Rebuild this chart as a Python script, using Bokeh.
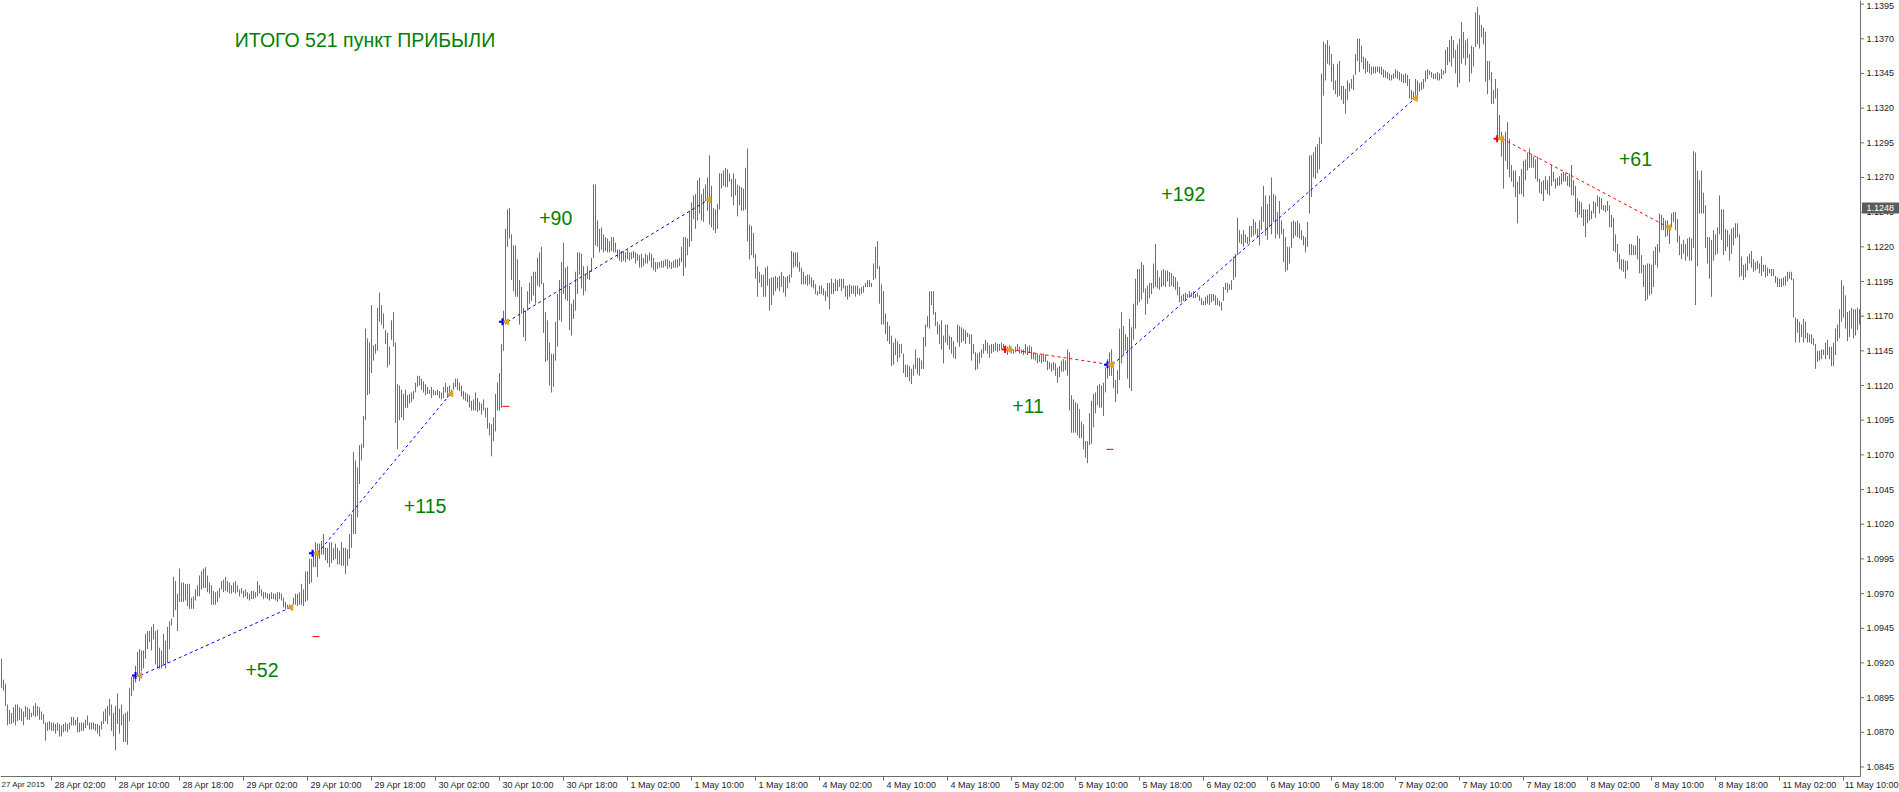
import math
from bokeh.plotting import figure
from bokeh.models import Range1d, ColumnDataSource
from bokeh.core.properties import value
from bokeh.embed import file_html
from bokeh.resources import INLINE

# EURUSD M15 bars (high / low), bar index = 15-minute trading period
HIGH = [
1.0923,1.0908,1.0905,1.0890,1.0886,1.0884,1.0888,1.0890,1.0890,1.0888,
1.0887,1.0885,1.0889,1.0888,1.0887,1.0884,1.0889,1.0891,1.0889,1.0888,
1.0885,1.0883,1.0877,1.0877,1.0878,1.0877,1.0877,1.0876,1.0877,1.0876,
1.0875,1.0876,1.0877,1.0876,1.0877,1.0881,1.0881,1.0879,1.0881,1.0877,
1.0877,1.0877,1.0879,1.0882,1.0877,1.0877,1.0877,1.0876,1.0876,1.0875,
1.0878,1.0885,1.0887,1.0889,1.0894,1.0890,1.0884,1.0889,1.0898,1.0887,
1.0890,1.0883,1.0884,1.0885,1.0902,1.0910,1.0911,1.0918,1.0928,1.0930,
1.0929,1.0929,1.0941,1.0943,1.0943,1.0946,1.0948,1.0943,1.0944,1.0931,
1.0929,1.0941,1.0936,1.0946,1.0950,1.0952,1.0982,1.0979,1.0970,1.0988,
1.0978,1.0978,1.0977,1.0977,1.0977,1.0967,1.0968,1.0973,1.0976,1.0983,
1.0986,1.0988,1.0989,1.0983,1.0978,1.0976,1.0972,1.0971,1.0972,1.0974,
1.0979,1.0980,1.0982,1.0979,1.0978,1.0976,1.0978,1.0979,1.0976,1.0973,
1.0974,1.0972,1.0973,1.0971,1.0970,1.0972,1.0972,1.0971,1.0979,1.0976,
1.0973,1.0971,1.0971,1.0970,1.0970,1.0971,1.0970,1.0970,1.0971,1.0971,
1.0970,1.0967,1.0964,1.0962,1.0962,1.0961,1.0967,1.0970,1.0970,1.0971,
1.0977,1.0973,1.0986,1.0986,1.0995,1.0995,1.1001,1.1007,1.1006,1.1006,
1.1008,1.1013,1.1003,1.1003,1.1007,1.1007,1.1003,1.1006,1.1003,1.1001,
1.1007,1.1003,1.1003,1.1002,1.1013,1.1027,1.1072,1.1066,1.1061,1.1077,
1.1078,1.1098,1.1161,1.1154,1.1151,1.1178,1.1149,1.1150,1.1176,1.1187,
1.1178,1.1172,1.1160,1.1158,1.1148,1.1167,1.1173,1.1151,1.1121,1.1120,
1.1117,1.1114,1.1117,1.1113,1.1114,1.1115,1.1116,1.1122,1.1127,1.1127,
1.1125,1.1123,1.1121,1.1119,1.1117,1.1119,1.1117,1.1116,1.1117,1.1116,
1.1115,1.1119,1.1122,1.1119,1.1120,1.1117,1.1122,1.1125,1.1125,1.1122,
1.1120,1.1116,1.1115,1.1114,1.1113,1.1109,1.1110,1.1115,1.1111,1.1108,
1.1107,1.1110,1.1104,1.1104,1.1093,1.1092,1.1097,1.1114,1.1122,1.1129,
1.1150,1.1174,1.1233,1.1247,1.1248,1.1229,1.1221,1.1221,1.1211,1.1196,
1.1191,1.1176,1.1174,1.1188,1.1194,1.1199,1.1202,1.1202,1.1212,1.1216,
1.1220,1.1194,1.1173,1.1167,1.1151,1.1143,1.1143,1.1166,1.1186,1.1196,
1.1209,1.1223,1.1205,1.1206,1.1192,1.1179,1.1182,1.1202,1.1216,1.1216,
1.1215,1.1206,1.1200,1.1206,1.1203,1.1212,1.1265,1.1265,1.1239,1.1233,
1.1234,1.1229,1.1227,1.1226,1.1224,1.1227,1.1227,1.1223,1.1218,1.1218,
1.1217,1.1217,1.1216,1.1218,1.1216,1.1216,1.1217,1.1216,1.1215,1.1214,
1.1215,1.1212,1.1215,1.1214,1.1216,1.1215,1.1212,1.1209,1.1209,1.1209,
1.1210,1.1210,1.1211,1.1211,1.1210,1.1209,1.1210,1.1211,1.1211,1.1212,
1.1220,1.1227,1.1227,1.1226,1.1246,1.1252,1.1257,1.1258,1.1268,1.1270,
1.1258,1.1262,1.1265,1.1270,1.1286,1.1264,1.1248,1.1247,1.1251,1.1273,
1.1273,1.1275,1.1277,1.1276,1.1273,1.1269,1.1273,1.1269,1.1265,1.1264,
1.1263,1.1262,1.1277,1.1291,1.1236,1.1235,1.1230,1.1215,1.1206,1.1202,
1.1200,1.1200,1.1205,1.1206,1.1197,1.1198,1.1198,1.1199,1.1198,1.1199,
1.1202,1.1199,1.1198,1.1199,1.1200,1.1217,1.1216,1.1216,1.1216,1.1209,
1.1205,1.1202,1.1199,1.1200,1.1200,1.1198,1.1196,1.1193,1.1188,1.1192,
1.1192,1.1190,1.1188,1.1194,1.1194,1.1197,1.1194,1.1197,1.1196,1.1197,
1.1197,1.1197,1.1192,1.1192,1.1193,1.1192,1.1192,1.1192,1.1192,1.1190,
1.1191,1.1192,1.1194,1.1196,1.1196,1.1194,1.1208,1.1220,1.1224,1.1206,
1.1193,1.1188,1.1172,1.1166,1.1163,1.1156,1.1151,1.1154,1.1152,1.1150,
1.1150,1.1143,1.1135,1.1135,1.1134,1.1132,1.1135,1.1146,1.1140,1.1140,
1.1138,1.1155,1.1164,1.1170,1.1188,1.1188,1.1188,1.1173,1.1166,1.1164,
1.1167,1.1156,1.1164,1.1164,1.1156,1.1155,1.1152,1.1148,1.1164,1.1163,
1.1162,1.1161,1.1160,1.1158,1.1157,1.1157,1.1150,1.1144,1.1143,1.1144,
1.1146,1.1150,1.1153,1.1151,1.1149,1.1150,1.1150,1.1151,1.1150,1.1150,
1.1151,1.1150,1.1149,1.1148,1.1149,1.1146,1.1146,1.1148,1.1150,1.1148,
1.1146,1.1146,1.1150,1.1148,1.1149,1.1148,1.1144,1.1143,1.1143,1.1142,
1.1142,1.1143,1.1142,1.1138,1.1137,1.1136,1.1137,1.1136,1.1133,1.1134,
1.1138,1.1139,1.1138,1.1146,1.1144,1.1113,1.1110,1.1108,1.1107,1.1103,
1.1094,1.1092,1.1080,1.1080,1.1100,1.1109,1.1114,1.1115,1.1120,1.1121,
1.1120,1.1122,1.1133,1.1139,1.1144,1.1146,1.1133,1.1124,1.1131,1.1161,
1.1173,1.1163,1.1157,1.1155,1.1168,1.1162,1.1179,1.1197,1.1204,1.1204,
1.1209,1.1207,1.1190,1.1192,1.1194,1.1194,1.1208,1.1222,1.1203,1.1198,
1.1203,1.1204,1.1203,1.1203,1.1202,1.1201,1.1199,1.1198,1.1195,1.1191,
1.1185,1.1186,1.1187,1.1186,1.1188,1.1187,1.1188,1.1186,1.1187,1.1185,
1.1183,1.1181,1.1184,1.1185,1.1186,1.1186,1.1186,1.1185,1.1183,1.1181,
1.1180,1.1191,1.1194,1.1194,1.1193,1.1196,1.1213,1.1215,1.1241,1.1232,
1.1229,1.1232,1.1229,1.1227,1.1235,1.1235,1.1240,1.1238,1.1233,1.1239,
1.1249,1.1264,1.1257,1.1251,1.1257,1.1270,1.1258,1.1257,1.1245,1.1253,
1.1239,1.1233,1.1227,1.1220,1.1220,1.1238,1.1239,1.1238,1.1239,1.1237,
1.1232,1.1228,1.1227,1.1238,1.1286,1.1286,1.1288,1.1292,1.1294,1.1299,
1.1345,1.1368,1.1366,1.1369,1.1365,1.1359,1.1352,1.1340,1.1352,1.1354,
1.1336,1.1336,1.1334,1.1340,1.1338,1.1341,1.1344,1.1359,1.1370,1.1370,
1.1365,1.1357,1.1356,1.1354,1.1352,1.1350,1.1350,1.1350,1.1350,1.1350,
1.1350,1.1348,1.1347,1.1346,1.1345,1.1344,1.1345,1.1348,1.1347,1.1346,
1.1345,1.1344,1.1345,1.1344,1.1341,1.1333,1.1332,1.1341,1.1340,1.1338,
1.1339,1.1341,1.1347,1.1348,1.1347,1.1346,1.1345,1.1345,1.1346,1.1345,
1.1348,1.1347,1.1362,1.1364,1.1369,1.1372,1.1369,1.1362,1.1366,1.1370,
1.1382,1.1375,1.1369,1.1370,1.1359,1.1365,1.1364,1.1389,1.1393,1.1387,
1.1380,1.1378,1.1375,1.1354,1.1354,1.1346,1.1333,1.1341,1.1334,1.1315,
1.1303,1.1299,1.1303,1.1310,1.1298,1.1279,1.1275,1.1275,1.1267,1.1271,
1.1276,1.1282,1.1283,1.1288,1.1291,1.1287,1.1285,1.1283,1.1285,1.1269,
1.1267,1.1268,1.1271,1.1268,1.1271,1.1279,1.1274,1.1269,1.1270,1.1271,
1.1273,1.1274,1.1273,1.1271,1.1273,1.1279,1.1268,1.1264,1.1255,1.1253,
1.1252,1.1247,1.1247,1.1247,1.1251,1.1246,1.1253,1.1252,1.1257,1.1256,
1.1255,1.1250,1.1250,1.1253,1.1250,1.1243,1.1241,1.1229,1.1222,1.1215,
1.1211,1.1211,1.1210,1.1210,1.1222,1.1222,1.1221,1.1221,1.1228,1.1226,
1.1214,1.1207,1.1207,1.1208,1.1208,1.1207,1.1217,1.1220,1.1222,1.1244,
1.1243,1.1241,1.1239,1.1239,1.1235,1.1244,1.1245,1.1245,1.1240,1.1228,
1.1222,1.1225,1.1222,1.1226,1.1227,1.1226,1.1289,1.1288,1.1275,1.1268,
1.1275,1.1259,1.1250,1.1227,1.1227,1.1225,1.1232,1.1229,1.1234,1.1257,
1.1247,1.1247,1.1233,1.1232,1.1229,1.1233,1.1234,1.1237,1.1237,1.1229,
1.1213,1.1207,1.1208,1.1213,1.1215,1.1217,1.1211,1.1209,1.1210,1.1208,
1.1213,1.1207,1.1207,1.1205,1.1204,1.1204,1.1204,1.1199,1.1198,1.1197,
1.1197,1.1198,1.1199,1.1202,1.1202,1.1202,1.1197,1.1169,1.1168,1.1166,
1.1164,1.1168,1.1166,1.1158,1.1157,1.1157,1.1154,1.1150,1.1145,1.1145,
1.1146,1.1146,1.1151,1.1153,1.1148,1.1148,1.1151,1.1161,1.1164,1.1175,
1.1196,1.1192,1.1185,1.1173,1.1174,1.1176,1.1175,1.1175,1.1176,1.1175,
]

LOW = [
1.0902,1.0900,1.0889,1.0875,1.0876,1.0876,1.0877,1.0875,1.0878,1.0879,
1.0878,1.0875,1.0881,1.0879,1.0879,1.0881,1.0882,1.0881,1.0882,1.0879,
1.0879,1.0876,1.0864,1.0871,1.0872,1.0871,1.0871,1.0869,1.0871,1.0867,
1.0867,1.0870,1.0871,1.0870,1.0872,1.0875,1.0875,1.0875,1.0870,1.0870,
1.0871,1.0871,1.0873,1.0875,1.0872,1.0872,1.0872,1.0871,1.0869,1.0867,
1.0872,1.0876,1.0878,1.0876,1.0882,1.0871,1.0867,1.0857,1.0876,1.0869,
1.0875,1.0863,1.0863,1.0861,1.0878,1.0896,1.0900,1.0906,1.0911,1.0907,
1.0914,1.0916,1.0923,1.0930,1.0935,1.0929,1.0937,1.0919,1.0916,1.0916,
1.0916,1.0919,1.0916,1.0920,1.0930,1.0947,1.0953,1.0958,1.0943,1.0964,
1.0964,1.0964,1.0965,1.0961,1.0959,1.0959,1.0959,1.0965,1.0968,1.0968,
1.0973,1.0974,1.0974,1.0971,1.0970,1.0962,1.0962,1.0962,1.0964,1.0967,
1.0973,1.0971,1.0972,1.0971,1.0970,1.0970,1.0971,1.0970,1.0971,1.0968,
1.0970,1.0967,1.0968,1.0966,1.0965,1.0966,1.0966,1.0967,1.0968,1.0970,
1.0968,1.0966,1.0967,1.0966,1.0965,1.0966,1.0966,1.0965,1.0964,1.0966,
1.0965,1.0960,1.0959,1.0959,1.0959,1.0958,1.0962,1.0962,1.0961,1.0962,
1.0962,1.0961,1.0964,1.0965,1.0977,1.0978,1.0989,1.0989,1.0982,1.0995,
1.0998,1.0998,1.0994,1.0992,1.0989,1.0992,1.0994,1.0995,1.0991,1.0991,
1.0990,1.0990,1.0984,1.0990,1.0995,1.1003,1.1013,1.1013,1.1025,1.1049,
1.1066,1.1075,1.1095,1.1113,1.1114,1.1129,1.1138,1.1143,1.1145,1.1166,
1.1164,1.1161,1.1150,1.1133,1.1135,1.1153,1.1148,1.1093,1.1074,1.1095,
1.1097,1.1095,1.1104,1.1104,1.1107,1.1108,1.1110,1.1115,1.1119,1.1120,
1.1117,1.1115,1.1113,1.1114,1.1114,1.1111,1.1113,1.1113,1.1113,1.1111,
1.1110,1.1111,1.1115,1.1111,1.1114,1.1114,1.1117,1.1119,1.1117,1.1116,
1.1112,1.1110,1.1109,1.1108,1.1104,1.1102,1.1102,1.1102,1.1101,1.1102,
1.1099,1.1102,1.1097,1.1089,1.1084,1.1069,1.1080,1.1087,1.1102,1.1102,
1.1104,1.1145,1.1164,1.1220,1.1226,1.1196,1.1188,1.1184,1.1184,1.1164,
1.1172,1.1155,1.1152,1.1174,1.1179,1.1181,1.1185,1.1179,1.1192,1.1191,
1.1193,1.1158,1.1137,1.1138,1.1120,1.1115,1.1119,1.1138,1.1148,1.1167,
1.1166,1.1186,1.1182,1.1181,1.1160,1.1156,1.1168,1.1174,1.1186,1.1200,
1.1190,1.1185,1.1188,1.1197,1.1196,1.1202,1.1212,1.1221,1.1220,1.1216,
1.1218,1.1216,1.1217,1.1216,1.1216,1.1217,1.1216,1.1216,1.1212,1.1210,
1.1209,1.1210,1.1209,1.1211,1.1210,1.1211,1.1212,1.1208,1.1210,1.1205,
1.1205,1.1206,1.1208,1.1208,1.1210,1.1205,1.1203,1.1202,1.1204,1.1205,
1.1205,1.1205,1.1206,1.1204,1.1205,1.1204,1.1205,1.1205,1.1205,1.1206,
1.1209,1.1199,1.1205,1.1214,1.1220,1.1224,1.1240,1.1233,1.1239,1.1244,
1.1239,1.1238,1.1253,1.1246,1.1236,1.1234,1.1232,1.1230,1.1233,1.1247,
1.1262,1.1264,1.1263,1.1263,1.1267,1.1256,1.1250,1.1257,1.1242,1.1250,
1.1246,1.1246,1.1247,1.1224,1.1211,1.1214,1.1212,1.1197,1.1184,1.1194,
1.1191,1.1184,1.1184,1.1192,1.1174,1.1178,1.1185,1.1188,1.1190,1.1188,
1.1191,1.1187,1.1184,1.1190,1.1194,1.1198,1.1205,1.1206,1.1205,1.1202,
1.1193,1.1193,1.1193,1.1192,1.1193,1.1191,1.1190,1.1186,1.1185,1.1186,
1.1186,1.1185,1.1181,1.1184,1.1175,1.1186,1.1186,1.1188,1.1188,1.1191,
1.1188,1.1190,1.1184,1.1182,1.1184,1.1186,1.1186,1.1184,1.1186,1.1185,
1.1186,1.1187,1.1191,1.1191,1.1191,1.1191,1.1196,1.1197,1.1204,1.1179,
1.1164,1.1164,1.1157,1.1152,1.1150,1.1134,1.1135,1.1142,1.1137,1.1140,
1.1143,1.1129,1.1126,1.1126,1.1123,1.1121,1.1127,1.1132,1.1128,1.1127,
1.1132,1.1132,1.1148,1.1162,1.1161,1.1178,1.1171,1.1163,1.1157,1.1150,
1.1146,1.1136,1.1151,1.1149,1.1146,1.1143,1.1140,1.1139,1.1151,1.1148,
1.1151,1.1152,1.1150,1.1155,1.1150,1.1138,1.1143,1.1131,1.1132,1.1136,
1.1140,1.1143,1.1145,1.1143,1.1140,1.1143,1.1144,1.1145,1.1144,1.1145,
1.1146,1.1147,1.1145,1.1142,1.1144,1.1143,1.1143,1.1144,1.1145,1.1143,
1.1143,1.1142,1.1143,1.1142,1.1144,1.1139,1.1139,1.1138,1.1136,1.1137,
1.1136,1.1137,1.1137,1.1131,1.1132,1.1130,1.1131,1.1127,1.1122,1.1126,
1.1130,1.1130,1.1131,1.1127,1.1102,1.1086,1.1086,1.1086,1.1084,1.1082,
1.1082,1.1074,1.1068,1.1064,1.1077,1.1078,1.1090,1.1100,1.1106,1.1104,
1.1104,1.1098,1.1115,1.1125,1.1127,1.1127,1.1118,1.1108,1.1114,1.1124,
1.1136,1.1142,1.1145,1.1125,1.1118,1.1116,1.1153,1.1161,1.1178,1.1180,
1.1182,1.1187,1.1171,1.1179,1.1183,1.1186,1.1190,1.1191,1.1190,1.1189,
1.1191,1.1192,1.1191,1.1195,1.1191,1.1192,1.1191,1.1189,1.1185,1.1180,
1.1180,1.1181,1.1181,1.1183,1.1184,1.1184,1.1183,1.1183,1.1184,1.1181,
1.1178,1.1178,1.1178,1.1179,1.1178,1.1180,1.1181,1.1178,1.1178,1.1177,
1.1174,1.1181,1.1189,1.1187,1.1189,1.1189,1.1196,1.1198,1.1214,1.1223,
1.1222,1.1220,1.1223,1.1222,1.1223,1.1227,1.1228,1.1229,1.1227,1.1221,
1.1232,1.1238,1.1228,1.1225,1.1234,1.1229,1.1238,1.1226,1.1229,1.1226,
1.1229,1.1209,1.1202,1.1203,1.1208,1.1219,1.1226,1.1228,1.1227,1.1226,
1.1225,1.1221,1.1216,1.1220,1.1244,1.1256,1.1270,1.1269,1.1273,1.1276,
1.1294,1.1329,1.1340,1.1352,1.1351,1.1339,1.1333,1.1330,1.1328,1.1329,
1.1326,1.1323,1.1316,1.1326,1.1332,1.1334,1.1333,1.1344,1.1354,1.1346,
1.1353,1.1348,1.1345,1.1346,1.1345,1.1344,1.1345,1.1345,1.1346,1.1345,
1.1344,1.1342,1.1342,1.1341,1.1340,1.1340,1.1341,1.1342,1.1341,1.1340,
1.1339,1.1338,1.1338,1.1336,1.1327,1.1326,1.1326,1.1329,1.1327,1.1332,
1.1333,1.1334,1.1339,1.1341,1.1344,1.1342,1.1341,1.1341,1.1340,1.1340,
1.1341,1.1344,1.1345,1.1351,1.1353,1.1350,1.1356,1.1345,1.1335,1.1338,
1.1352,1.1356,1.1351,1.1356,1.1339,1.1345,1.1350,1.1364,1.1366,1.1363,
1.1371,1.1366,1.1339,1.1330,1.1340,1.1323,1.1323,1.1327,1.1299,1.1297,
1.1285,1.1262,1.1282,1.1276,1.1270,1.1267,1.1263,1.1256,1.1237,1.1258,
1.1258,1.1256,1.1268,1.1275,1.1277,1.1277,1.1277,1.1269,1.1267,1.1259,
1.1258,1.1253,1.1261,1.1258,1.1257,1.1264,1.1267,1.1262,1.1264,1.1264,
1.1265,1.1267,1.1267,1.1264,1.1263,1.1257,1.1257,1.1245,1.1241,1.1243,
1.1241,1.1235,1.1227,1.1237,1.1239,1.1240,1.1244,1.1241,1.1249,1.1244,
1.1247,1.1246,1.1245,1.1246,1.1234,1.1234,1.1217,1.1216,1.1209,1.1204,
1.1203,1.1202,1.1197,1.1203,1.1214,1.1214,1.1214,1.1214,1.1211,1.1201,
1.1201,1.1191,1.1181,1.1182,1.1185,1.1186,1.1191,1.1207,1.1205,1.1216,
1.1232,1.1232,1.1227,1.1228,1.1222,1.1234,1.1238,1.1232,1.1223,1.1214,
1.1211,1.1215,1.1210,1.1213,1.1210,1.1210,1.1219,1.1178,1.1206,1.1244,
1.1244,1.1244,1.1219,1.1208,1.1197,1.1184,1.1210,1.1214,1.1215,1.1229,
1.1225,1.1214,1.1217,1.1220,1.1210,1.1215,1.1221,1.1226,1.1227,1.1198,
1.1199,1.1196,1.1198,1.1203,1.1208,1.1205,1.1202,1.1203,1.1204,1.1201,
1.1199,1.1202,1.1198,1.1199,1.1201,1.1199,1.1199,1.1194,1.1191,1.1191,
1.1191,1.1192,1.1192,1.1195,1.1197,1.1196,1.1169,1.1151,1.1158,1.1151,
1.1155,1.1151,1.1154,1.1151,1.1151,1.1150,1.1149,1.1132,1.1137,1.1138,
1.1139,1.1142,1.1139,1.1142,1.1139,1.1134,1.1134,1.1142,1.1152,1.1154,
1.1166,1.1169,1.1161,1.1152,1.1155,1.1161,1.1154,1.1156,1.1160,1.1164,
]
assert len(HIGH) == len(LOW)
BAR = list(range(len(HIGH)))

# time axis: bar index of each 8-hour label
TICK_BARS = [-7, 25, 57, 89, 121, 153, 185, 217, 249, 281, 313, 345, 377, 409, 441,
             473, 505, 537, 569, 601, 633, 665, 697, 729, 761, 793, 825, 857, 889, 921]
TICK_LABELS = ["27 Apr 2015", "28 Apr 02:00", "28 Apr 10:00", "28 Apr 18:00", "29 Apr 02:00",
               "29 Apr 10:00", "29 Apr 18:00", "30 Apr 02:00", "30 Apr 10:00", "30 Apr 18:00",
               "1 May 02:00", "1 May 10:00", "1 May 18:00", "4 May 02:00", "4 May 10:00",
               "4 May 18:00", "5 May 02:00", "5 May 10:00", "5 May 18:00", "6 May 02:00",
               "6 May 10:00", "6 May 18:00", "7 May 02:00", "7 May 10:00", "7 May 18:00",
               "8 May 02:00", "8 May 10:00", "8 May 18:00", "11 May 02:00", "11 May 10:00"]
PRICE_TICKS = [1.0845, 1.0870, 1.0895, 1.0920, 1.0945, 1.0970, 1.0995, 1.1020, 1.1045,
               1.1070, 1.1095, 1.1120, 1.1145, 1.1170, 1.1195, 1.1220, 1.1245, 1.1270,
               1.1295, 1.1320, 1.1345, 1.1370, 1.1395]
LAST_PRICE = 1.1248

# trades
TRADE_SIDE = ["buy", "buy", "buy", "sell", "buy", "sell"]
OPEN_BAR = [69.5, 158, 253, 504.3, 555.5, 750.3]
OPEN_PRICE = [1.0911, 1.0999, 1.1166, 1.1146, 1.1135, 1.1298]
CLOSE_BAR = [144.5, 224.5, 353.5, 554.5, 706.7, 833.5]
CLOSE_PRICE = [1.0960, 1.1114, 1.1254, 1.1135, 1.1327, 1.1234]
STOP_BAR = [157.25, 252.2, 554.25]
STOP_PRICE = [1.0939, 1.1105, 1.1074]
PROFIT_TEXT = ["+52", "+115", "+90", "+11", "+192", "+61"]
PROFIT_BAR = [130.25, 211.8, 277.1, 513.3, 590.9, 817]
PROFIT_PRICE = [1.0915, 1.1033, 1.1241, 1.1105, 1.1258, 1.1283]
TITLE_TEXT = "ИТОГО 521 пункт ПРИБЫЛИ"
TITLE_BAR = 181.75
TITLE_PRICE = 1.1369

FONT = "Liberation Sans"
BAR_COLOR = "#6e6e6e"
AXIS_COLOR = "#6e6e6e"
TEXT_COLOR = "#1e1e1e"
GREEN = "#008000"
SIDE_COLOR = {"buy": "#0000ff", "sell": "#ff0000"}

# layout: 2 px per bar, 13870 px per price unit; plot frame covers the whole figure
W, H = 1899, 792
PX = 13870.0
X0 = -0.5
X1 = X0 + W / 2.0
Y1 = 1.13976
Y0 = Y1 - H / PX
AXIS_X = 929.5                       # right price scale line
AXIS_Y = Y1 - 776 / PX               # bottom time scale line

p = figure(width=W, height=H, x_range=Range1d(X0, X1), y_range=Range1d(Y0, Y1),
           output_backend="svg", toolbar_location=None, x_axis_location=None, y_axis_location=None,
           min_border=0, outline_line_color=None, background_fill_color="white",
           border_fill_color="white")
p.xgrid.visible = False
p.ygrid.visible = False

src = ColumnDataSource(dict(x=BAR, high=HIGH, low=LOW))
p.segment(x0="x", y0="low", x1="x", y1="high", source=src, line_color=BAR_COLOR, line_width=1)

colors = [SIDE_COLOR[s] for s in TRADE_SIDE]
p.segment(x0=OPEN_BAR, y0=OPEN_PRICE, x1=CLOSE_BAR, y1=CLOSE_PRICE, line_color=colors,
          line_width=1, line_dash="3 3")
p.scatter(x=[b - 2.5 for b in OPEN_BAR], y=OPEN_PRICE, marker="cross", size=7,
          line_width=2, line_color=colors)
p.scatter(x=[b - 0.3 for b in OPEN_BAR] + [b + 0.3 for b in CLOSE_BAR],
          y=OPEN_PRICE + CLOSE_PRICE, marker="triangle", angle=math.pi / 2, size=6,
          fill_color="#daa520", line_color="#daa520")
p.scatter(x=STOP_BAR, y=STOP_PRICE, marker="dash", size=7, line_color="#ff0000", line_width=1)

p.text(x=PROFIT_BAR, y=PROFIT_PRICE, text=PROFIT_TEXT, text_font=value(FONT),
       text_font_size="19.5px", text_color=GREEN, text_align="center", text_baseline="middle")
p.text(x=[TITLE_BAR], y=[TITLE_PRICE], text=[TITLE_TEXT], text_font=value(FONT),
       text_font_size="19.5px", text_color=GREEN, text_align="center", text_baseline="middle")

# price scale (right)
p.segment(x0=[AXIS_X], y0=[AXIS_Y], x1=[AXIS_X], y1=[Y1], line_color=AXIS_COLOR, line_width=1)
p.segment(x0=[AXIS_X] * len(PRICE_TICKS), y0=PRICE_TICKS, x1=[AXIS_X + 1.75] * len(PRICE_TICKS),
          y1=PRICE_TICKS, line_color=AXIS_COLOR, line_width=1)
label_y = [min(t, Y1 - 5 / PX) for t in PRICE_TICKS]
p.text(x=[AXIS_X + 3.0] * len(PRICE_TICKS), y=label_y, text=[f"{t:.4f}" for t in PRICE_TICKS],
       text_font=value(FONT), text_font_size="9px", text_color=TEXT_COLOR,
       text_align="left", text_baseline="middle")

# time scale (bottom)
p.segment(x0=[X0], y0=[AXIS_Y], x1=[AXIS_X], y1=[AXIS_Y], line_color=AXIS_COLOR, line_width=1)
p.segment(x0=TICK_BARS, y0=[AXIS_Y] * len(TICK_BARS), x1=TICK_BARS,
          y1=[AXIS_Y - 4 / PX] * len(TICK_BARS), line_color=AXIS_COLOR, line_width=1)
lab_x, lab_align, lab_size = [], [], []
for b, s in zip(TICK_BARS, TICK_LABELS):
    if b < X0:                      # first label: pinned to the left edge, smaller
        lab_x.append(X0 + 0.5); lab_align.append("left"); lab_size.append("8px")
    elif b > 915:                   # last label: pinned to the right edge
        lab_x.append(X1 - 0.5); lab_align.append("right"); lab_size.append("9px")
    else:
        lab_x.append(b + 1.5); lab_align.append("left"); lab_size.append("9px")
p.text(x=lab_x, y=[AXIS_Y - 3 / PX] * len(TICK_BARS), text=TICK_LABELS, text_align=lab_align,
       text_font=value(FONT), text_font_size=lab_size, text_color=TEXT_COLOR,
       text_baseline="top")

# last price marker
p.quad(left=[AXIS_X + 0.75], right=[X1], bottom=[LAST_PRICE - 5.5 / PX], top=[LAST_PRICE + 5.5 / PX],
       fill_color="#5c5c5c", line_color=None)
p.text(x=[AXIS_X + 3.0], y=[LAST_PRICE], text=[f"{LAST_PRICE:.4f}"], text_font=value(FONT),
       text_font_size="9px", text_color="white", text_align="left", text_baseline="middle")

open("out.html", "w").write(file_html(p, INLINE))
